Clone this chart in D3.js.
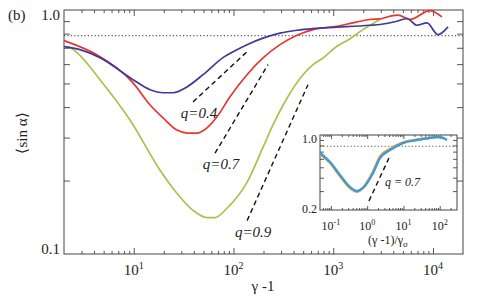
<!DOCTYPE html>
<html><head><meta charset="utf-8">
<script src="https://cdn.jsdelivr.net/npm/d3@7"></script>
<style>
body{margin:0;background:#fff}
svg text{font-family:"Liberation Serif","Times New Roman",Times,serif;fill:#222}
</style>
</head><body><div class="chart"></div>
<script>
const width = 477, height = 299;

// main panel data, gamma-1 vs <sin alpha>
const blueX = [2, 2.89, 4.59, 9.84, 14.6, 19.7, 24.8, 34.2, 49.5, 78.5, 103.6, 136.7, 197.7, 292.7, 433.5, 627, 1091, 2336, 2943, 4358, 5487, 6907, 8700, 11220, 14140];
const blueY = [0.708, 0.688, 0.638, 0.518, 0.471, 0.458, 0.458, 0.484, 0.543, 0.638, 0.681, 0.721, 0.767, 0.804, 0.826, 0.839, 0.850, 0.866, 0.872, 0.899, 0.923, 0.866, 0.886, 0.793, 0.853];
const redX = [2, 4.59, 9.84, 14.6, 19.7, 27.2, 34.2, 43.1, 54.3, 68.4, 92.3, 136.7, 197.7, 292.7, 433.5, 627, 1091, 1579, 2336, 2943, 3707, 4459, 5879, 9330, 12300];
const redY = [0.749, 0.644, 0.503, 0.408, 0.361, 0.322, 0.313, 0.313, 0.329, 0.365, 0.441, 0.543, 0.636, 0.721, 0.788, 0.831, 0.858, 0.886, 0.914, 0.920, 0.943, 0.952, 0.914, 0.995, 0.937];
const greenX = [2, 2.3, 2.7, 4.59, 9.18, 18.3, 27.2, 39.3, 54.3, 65.3, 86.1, 137, 198, 249, 344, 498, 627, 790, 1091, 1473, 1989, 2943];
const greenY = [0.708, 0.701, 0.669, 0.518, 0.354, 0.221, 0.177, 0.151, 0.141, 0.141, 0.154, 0.197, 0.274, 0.338, 0.435, 0.543, 0.597, 0.636, 0.710, 0.763, 0.831, 0.914];

// power-law guide lines (start, end)
const guideX = [[39.3, 137], [65.3, 222], [137, 558]];
const guideY = [[0.42, 0.675], [0.259, 0.597], [0.137, 0.494]];
const guideLabels = ["q=0.4", "q=0.7", "q=0.9"];

const isoLevel = Math.PI / 4;

const xMajor = [10, 100, 1000, 10000];
const xExp = ["1", "2", "3", "4"];
const yMajor = [0.1, 1];
const yLabels = ["0.1", "1.0"];

// inset data, rescaled (gamma-1)/gamma_sigma
const insetBlueX = [0.05, 0.0943, 0.178, 0.336, 0.524, 0.766, 1.357, 2.26, 4.26, 9.71, 23.6, 53.9, 89.6, 123, 159];
const insetBlueY = [0.680, 0.560, 0.424, 0.328, 0.301, 0.321, 0.424, 0.610, 0.725, 0.842, 0.898, 0.938, 0.958, 0.938, 0.898];
const insetOrangeX = [0.05, 0.0943, 0.178, 0.336, 0.524, 0.766, 1.357, 2.26, 4.26, 9.71, 23.6, 53.9, 89.6, 120];
const insetOrangeY = [0.665, 0.548, 0.412, 0.320, 0.296, 0.322, 0.436, 0.632, 0.745, 0.855, 0.905, 0.942, 0.962, 0.95];
const insetGuideX = [1.12, 3.99];
const insetGuideY = [0.243, 0.610];
const ixMajor = [0.1, 1, 10, 100];
const ixExp = ["-1", "0", "1", "2"];
const iyMajor = [0.2, 1];
const iyLabels = ["0.2", "1.0"];

const serif = "Liberation Serif";

const svg = d3.select(".chart").append("svg")
  .attr("width", width)
  .attr("height", height)
  .attr("font-family", serif);

const x = d3.scaleLog().domain([2, 20000]).range([64, 463]);
const y = d3.scaleLog().domain([0.1, 1]).range([254, 10]);

function minorTicks(scale) {
  const [lo, hi] = scale.domain();
  const out = [];
  for (let e = Math.floor(Math.log10(lo)) - 1; e <= Math.ceil(Math.log10(hi)); e++) {
    for (let m = 2; m < 10; m++) {
      const v = m * Math.pow(10, e);
      if (v > lo * 1.001 && v < hi * 0.999) out.push(v);
    }
  }
  return out;
}

function tickRow(g, axisFn, scale, vals, size, tx, ty) {
  const a = g.append("g")
    .attr("transform", `translate(${tx},${ty})`)
    .call(axisFn(scale).tickValues(vals).tickSize(-size).tickFormat(""));
  a.select(".domain").remove();
  a.selectAll("text").remove();
  a.selectAll("line").attr("stroke", "#444").attr("stroke-width", 0.9);
}

function frame(g, xs, ys, big, small) {
  const [x0, x1] = xs.range();
  const [y0, y1] = ys.range();
  g.append("rect")
    .attr("x", x0).attr("y", y1)
    .attr("width", x1 - x0).attr("height", y0 - y1)
    .attr("fill", "#fff").attr("stroke", "#444").attr("stroke-width", 1);
  const xMaj = xs.ticks().filter(v => Math.abs(Math.log10(v) - Math.round(Math.log10(v))) < 1e-9);
  tickRow(g, d3.axisBottom, xs, xMaj, big, 0, y0);
  tickRow(g, d3.axisTop, xs, xMaj, big, 0, y1);
  tickRow(g, d3.axisBottom, xs, minorTicks(xs), small, 0, y0);
  tickRow(g, d3.axisTop, xs, minorTicks(xs), small, 0, y1);
  tickRow(g, d3.axisLeft, ys, minorTicks(ys), big, x0, 0);
  tickRow(g, d3.axisRight, ys, minorTicks(ys), big, x1, 0);
}

function powLabel(g, px, py, base, exp, size) {
  const t = g.append("text")
    .attr("x", px).attr("y", py)
    .attr("text-anchor", "middle")
    .attr("font-family", serif)
    .style("font-size", size + "px");
  t.append("tspan").text(base);
  t.append("tspan").attr("dy", -size * 0.4).style("font-size", (size * 0.68) + "px").text(exp);
}

function curve(g, xs, ys, xv, yv, color, w) {
  const line = d3.line()
    .x(d => xs(d[0]))
    .y(d => ys(d[1]))
    .curve(d3.curveMonotoneX);
  g.append("path")
    .datum(xv.map((v, i) => [v, yv[i]]))
    .attr("d", line)
    .attr("fill", "none")
    .attr("stroke", color)
    .attr("stroke-width", w)
    .attr("stroke-linejoin", "round");
}

function level(g, xs, ys, v) {
  g.append("line")
    .attr("x1", xs.range()[0]).attr("x2", xs.range()[1])
    .attr("y1", ys(v)).attr("y2", ys(v))
    .attr("stroke", "#555")
    .attr("stroke-width", 1.2)
    .attr("stroke-dasharray", "1.2,2.2");
}

function guide(g, xs, ys, gx, gy) {
  g.append("line")
    .attr("x1", xs(gx[0])).attr("y1", ys(gy[0]))
    .attr("x2", xs(gx[1])).attr("y2", ys(gy[1]))
    .attr("stroke", "#111")
    .attr("stroke-width", 1.4)
    .attr("stroke-dasharray", "5,3.5");
}

// main panel
const main = svg.append("g");
frame(main, x, y, 6, 3);
level(main, x, y, isoLevel);
curve(main, x, y, greenX, greenY, "#a9c24e", 1.7);
curve(main, x, y, redX, redY, "#e8352d", 1.7);
curve(main, x, y, blueX, blueY, "#40399a", 1.7);

guideX.forEach((gx, i) => {
  guide(main, x, y, gx, guideY[i]);
  main.append("text")
    .attr("x", x(gx[0]) + 6)
    .attr("y", y(guideY[i][0]) + 16)
    .attr("text-anchor", "middle")
    .attr("font-family", serif)
    .style("font-size", "15px")
    .style("font-style", "italic")
    .text(guideLabels[i]);
});

xMajor.forEach((v, i) => powLabel(main, x(v), 275, "10", xExp[i], 15));
yMajor.forEach((v, i) => {
  main.append("text")
    .attr("x", 60)
    .attr("y", v === 1 ? y(v) + 10 : y(v))
    .attr("text-anchor", "end")
    .attr("font-family", serif)
    .style("font-size", "15px")
    .text(yLabels[i]);
});

main.append("text")
  .attr("x", 263).attr("y", 291)
  .attr("text-anchor", "middle")
  .attr("font-family", serif)
  .style("font-size", "15px")
  .text("γ -1");

main.append("text")
  .attr("transform", "translate(27,133) rotate(-90)")
  .attr("text-anchor", "middle")
  .attr("font-family", serif)
  .style("font-size", "15px")
  .text("⟨sin α⟩");

main.append("text")
  .attr("x", 8).attr("y", 20)
  .attr("font-family", serif)
  .style("font-size", "15px")
  .text("(b)");

// inset
const xi = d3.scaleLog().domain([0.05, 300]).range([320, 457]);
const yi = d3.scaleLog().domain([0.2, 1]).range([210, 135]);
const inset = svg.append("g");
frame(inset, xi, yi, 4, 2);
level(inset, xi, yi, isoLevel);
curve(inset, xi, yi, insetOrangeX, insetOrangeY, "#f0a23c", 2.4);
curve(inset, xi, yi, insetBlueX, insetBlueY, "#3d9bd6", 2.4);
guide(inset, xi, yi, insetGuideX, insetGuideY);

inset.append("text")
  .attr("x", 385).attr("y", 186)
  .attr("font-family", serif)
  .style("font-size", "12px")
  .style("font-style", "italic")
  .text("q = 0.7");

ixMajor.forEach((v, i) => powLabel(inset, xi(v), 230, "10", ixExp[i], 12));
iyMajor.forEach((v, i) => {
  inset.append("text")
    .attr("x", 317)
    .attr("y", v === 1 ? yi(v) + 8 : yi(v) + 3)
    .attr("text-anchor", "end")
    .attr("font-family", serif)
    .style("font-size", "12px")
    .text(iyLabels[i]);
});

const il = inset.append("text")
  .attr("x", 388).attr("y", 244)
  .attr("text-anchor", "middle")
  .attr("font-family", serif)
  .style("font-size", "12px");
il.append("tspan").text("(γ -1)/γ");
il.append("tspan").attr("dy", 3).style("font-size", "9px").text("σ");
</script></body></html>
